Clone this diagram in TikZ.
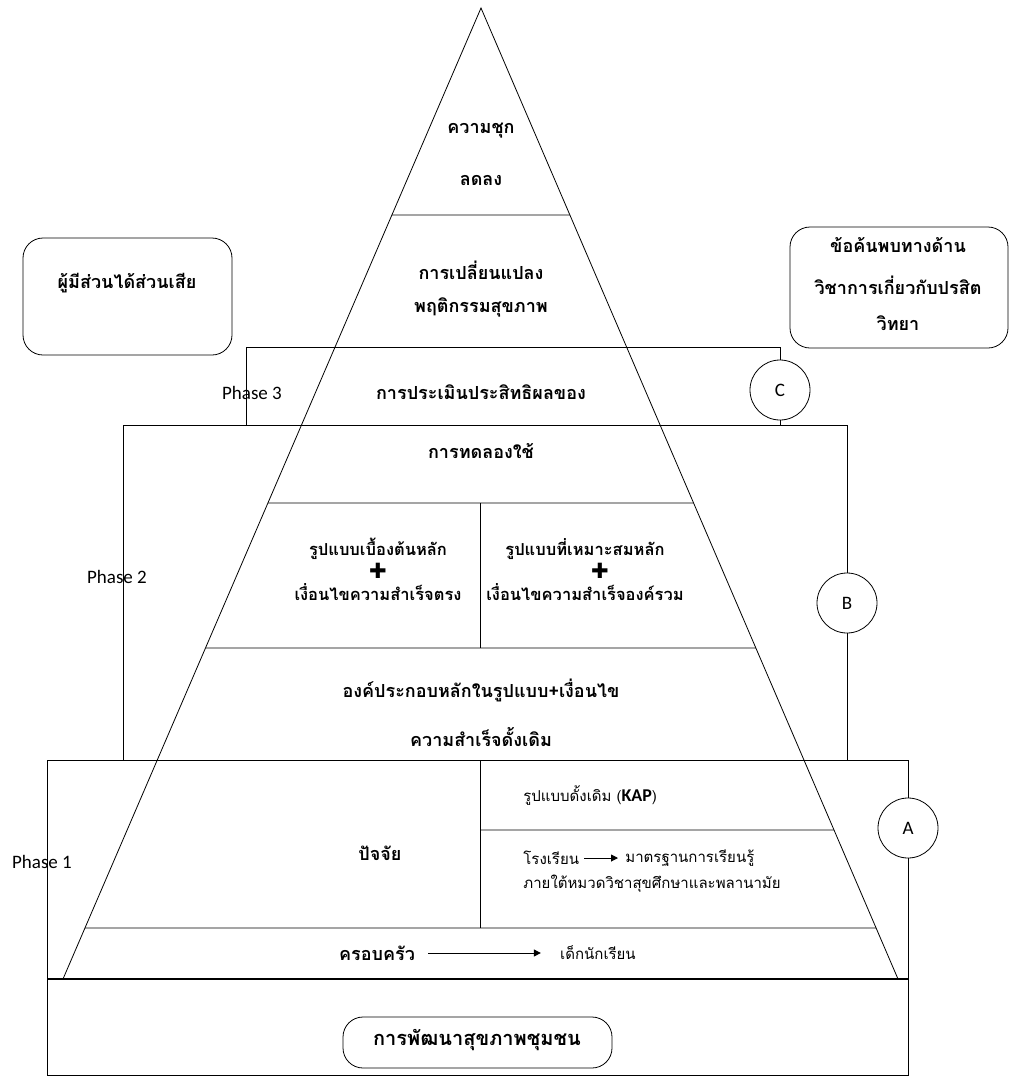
\documentclass[tikz,border=0pt]{standalone}
\usepackage{fontspec}
\setmainfont{Carlito}
\newfontfamily\thai[Script=Thai]{Loma}
\newfontfamily\sym{DejaVu Sans}
\usetikzlibrary{arrows.meta,calc}

\begin{document}
\begin{tikzpicture}[x=1pt,y=-1pt,line width=0.8pt,
  th/.style={font=\thai\bfseries\fontsize{18}{21}\selectfont,inner sep=0pt},
  ths/.style={font=\thai\bfseries\fontsize{16.5}{20}\selectfont,inner sep=0pt},
  tn/.style={font=\thai\fontsize{15}{18}\selectfont,inner sep=0pt},
  ph/.style={font=\fontsize{19}{22}\selectfont,inner sep=0pt},
  rbox/.style={draw,rounded corners=20pt,inner sep=0pt},
  tag/.style={draw,circle,fill=white,minimum size=60pt,inner sep=0pt,font=\fontsize{19}{22}\selectfont},
  plus/.style={font=\sym\fontsize{21}{21}\selectfont,inner sep=0pt},
  flow/.style={-{Triangle[length=7pt,width=7pt]},line width=1pt},
]
\useasboundingbox (0,0) rectangle (1011,1082);

% phase frames
\draw (246,347) rectangle (780,425);
\draw (123,425) rectangle (847,760);
\draw (47,760) rectangle (908,979);
\draw (47,979) rectangle (908,1075);
\draw[line width=2.4pt] (47,979) -- (908,979);

% pyramid
\coordinate (apex) at (481,8);
\coordinate (bl) at (63,979);
\coordinate (br) at (898,979);
\draw (bl) -- (apex) -- (br);

% horizontal layers of the pyramid
\draw (intersection of apex--bl and 0,215--1,215) -- (intersection of apex--br and 0,215--1,215);
\draw (intersection of apex--bl and 0,503--1,503) -- (intersection of apex--br and 0,503--1,503);
\draw (intersection of apex--bl and 0,648--1,648) -- (intersection of apex--br and 0,648--1,648);
\draw (intersection of apex--bl and 0,928--1,928) -- (intersection of apex--br and 0,928--1,928);
\draw (480,830) -- (intersection of apex--br and 0,830--1,830);
% vertical dividers
\draw (480,503) -- (480,648);
\draw (480,760) -- (480,928);

% phase tags
\node[tag] (tagC) at (780,390) {C};
\node[tag] (tagB) at (847,603) {B};
\node[tag] (tagA) at (908,828) {A};

% side boxes
\node[rbox,minimum width=209pt,minimum height=117pt] (stakebox) at (127.5,296.5) {};
\node[th] (stake) at (127,283) {ผู้มีส่วนได้ส่วนเสีย};
\node[rbox,minimum width=218pt,minimum height=121pt] (findbox) at (899,287.5) {};
\node[th] (find1) at (898,245) {ข้อค้นพบทางด้าน};
\node[th] (find2) at (898,285) {วิชาการเกี่ยวกับปรสิต};
\node[th] (find3) at (898,323) {วิทยา};

% pyramid texts
\node[th] (prev1) at (481,131) {ความชุก};
\node[th] (prev2) at (481,180) {ลดลง};
\node[th] (beh1) at (481,270) {การเปลี่ยนแปลง};
\node[th] (beh2) at (481,307) {พฤติกรรมสุขภาพ};
\node[th] (eval) at (481,392) {การประเมินประสิทธิผลของ};
\node[th] (trial) at (481,451) {การทดลองใช้};

\node[ths] (initA) at (378,549) {รูปแบบเบื้องต้นหลัก};
\node[plus] (initP) at (378,571) {✚};
\node[ths] (initB) at (378,592) {เงื่อนไขความสำเร็จตรง};
\node[ths] (fitA) at (585,549) {รูปแบบที่เหมาะสมหลัก};
\node[plus] (fitP) at (600,571) {✚};
\node[ths] (fitB) at (585,592) {เงื่อนไขความสำเร็จองค์รวม};

\node[th] (core1) at (481,690) {องค์ประกอบหลักในรูปแบบ+เงื่อนไข};
\node[th] (core2) at (481,737) {ความสำเร็จดั้งเดิม};

\node[th] (factor) at (380,853) {ปัจจัย};
\node[tn,anchor=west] (kap) at (523,795) {รูปแบบดั้งเดิม ({\fontspec{Carlito}\bfseries\fontsize{18}{21}\selectfont KAP})};
\node[tn,anchor=west] (school) at (523,858) {โรงเรียน};
\node[tn,anchor=west] (std) at (625,858) {มาตรฐานการเรียนรู้};
\node[tn,anchor=west] (sub) at (523,884) {ภายใต้หมวดวิชาสุขศึกษาและพลานามัย};
\draw[flow] ([xshift=5pt]school.east) -- ([xshift=-7pt]std.west);

\node[th] (fam) at (377,953) {ครอบครัว};
\node[tn] (kid) at (598,953) {เด็กนักเรียน};
\draw[flow] ([xshift=13pt]fam.east) -- ([xshift=-19pt]kid.west);

% phase labels
\node[ph] (p3) at (252,393) {Phase 3};
\node[ph] (p2) at (117,577) {Phase 2};
\node[ph] (p1) at (42,862) {Phase 1};

% base
\node[rbox,minimum width=269pt,minimum height=51pt] (commbox) at (477.5,1042.5) {};
\node[th,font=\thai\bfseries\fontsize{20}{23}\selectfont] (comm) at (477,1040) {การพัฒนาสุขภาพชุมชน};
\end{tikzpicture}
\end{document}
